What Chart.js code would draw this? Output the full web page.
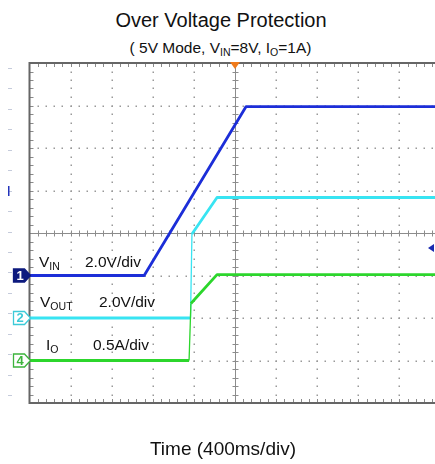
<!DOCTYPE html>
<html>
<head>
<meta charset="utf-8">
<script src="https://cdn.jsdelivr.net/npm/chart.js@4.4.1/dist/chart.umd.min.js"></script>
<style>
  html, body { margin: 0; padding: 0; background: #fff; }
  body { width: 435px; height: 464px; overflow: hidden; position: relative; font-family: "Liberation Sans", Arial, sans-serif; color: #111; }
  #scope { position: absolute; left: 0; top: 0; }
  .txt { position: absolute; white-space: nowrap; text-align: center; }
  .txt sub { font-size: 0.68em; vertical-align: -0.25em; line-height: 0; }
  #title { left: 0; width: 442px; top: 10px; font-size: 20px; line-height: 20px; }
  #subtitle { left: 0; width: 441px; top: 40px; font-size: 15.5px; line-height: 15px; }
  #xlabel { left: 0; width: 446px; top: 439px; font-size: 19px; line-height: 19px; }
</style>
</head>
<body>
<div id="title" class="txt">Over Voltage Protection</div>
<div id="subtitle" class="txt">( 5V Mode, V<sub>IN</sub>=8V, I<sub>O</sub>=1A)</div>
<canvas id="scope" width="450" height="464"></canvas>
<div id="xlabel" class="txt">Time (400ms/div)</div>
<script>
// time in ms from left edge of screen (400ms/div, 10 div)
var timeVin  = [0, 1116, 2108, 4000];
var vin      = [0, 0, 7.95, 7.95];          // V
var timeVout = [0, 1567, 1581, 1825, 4000];
var vout     = [0, 0, 3.95, 5.67, 5.67];   // V
var timeIo   = [0, 1553, 1571, 1825, 4000];
var io       = [0, 0, 0.67, 1.01, 1.01];   // A

// channel settings: zero position (div from bottom) and units per div
var ch1 = { pos: 3, perDiv: 2.0 };
var ch2 = { pos: 2, perDiv: 2.0 };
var ch4 = { pos: 1, perDiv: 0.5 };
var trigLevel = 3.65;   // div

var divX = 400, nDivX = 10, nDivY = 8;

function toPoints(t, v, ch) {
    var pts = [];
    for (var i = 0; i < t.length; i++) {
        pts.push({ x: t[i], y: ch.pos + v[i] / ch.perDiv });
    }
    return pts;
}

function drawSubText(ctx, parts, x, y, size, color) {
    ctx.fillStyle = color;
    ctx.textBaseline = 'alphabetic';
    ctx.textAlign = 'left';
    parts.forEach(function (p) {
        var sub = p[1];
        ctx.font = (sub ? size * 0.68 : size) + 'px "Liberation Sans", Arial, sans-serif';
        ctx.fillText(p[0], x, sub ? y + size * 0.2 : y);
        x += ctx.measureText(p[0]).width;
    });
}

function marker(ctx, x, y, label, fill, stroke, txt) {
    ctx.beginPath();
    ctx.moveTo(x - 17, y - 6.5);
    ctx.lineTo(x - 6, y - 6.5);
    ctx.lineTo(x, y);
    ctx.lineTo(x - 6, y + 6.5);
    ctx.lineTo(x - 17, y + 6.5);
    ctx.closePath();
    ctx.fillStyle = fill;
    ctx.fill();
    ctx.lineWidth = 1.3;
    ctx.strokeStyle = stroke;
    ctx.stroke();
    ctx.fillStyle = txt;
    ctx.font = 'bold 13px "Liberation Sans", Arial, sans-serif';
    ctx.textAlign = 'center';
    ctx.textBaseline = 'middle';
    ctx.fillText(label, x - 10.5, y + 0.5);
}

const scopeGrid = {
    id: 'scopeGrid',
    beforeDatasetsDraw(chart) {
        const { ctx, chartArea: a, scales: { x, y } } = chart;
        ctx.save();
        // dotted division lines
        ctx.fillStyle = '#999';
        for (var i = 1; i < nDivX; i++) {
            if (i == 5) continue;
            var px = Math.round(x.getPixelForValue(i * divX));
            for (var k = 1; k < nDivY * 5; k++) {
                var py = Math.round(y.getPixelForValue(k / 5));
                ctx.fillRect(px - 0.5, py - 0.5, 1.5, 1.5);
            }
        }
        for (var j = 1; j < nDivY; j++) {
            if (j == 4) continue;
            var py = Math.round(y.getPixelForValue(j));
            for (var k = 1; k < nDivX * 5; k++) {
                var px = Math.round(x.getPixelForValue(k * divX / 5));
                ctx.fillRect(px - 0.5, py - 0.5, 1.5, 1.5);
            }
        }
        // center cross with minor ticks
        var cx = Math.round(x.getPixelForValue(5 * divX)) + 0.5;
        var cy = Math.round(y.getPixelForValue(4)) + 0.5;
        ctx.strokeStyle = '#8c8c8c';
        ctx.lineWidth = 1;
        ctx.beginPath();
        ctx.moveTo(a.left, cy); ctx.lineTo(a.right, cy);
        ctx.moveTo(cx, a.top); ctx.lineTo(cx, a.bottom);
        for (var k = 1; k < nDivX * 5; k++) {
            var px = Math.round(x.getPixelForValue(k * divX / 5)) + 0.5;
            ctx.moveTo(px, cy - 3); ctx.lineTo(px, cy + 3);
        }
        for (var k = 1; k < nDivY * 5; k++) {
            var py = Math.round(y.getPixelForValue(k / 5)) + 0.5;
            ctx.moveTo(cx - 3, py); ctx.lineTo(cx + 3, py);
        }
        ctx.stroke();
        // frame ticks
        ctx.strokeStyle = '#8a8a8a';
        ctx.beginPath();
        for (var k = 1; k < nDivX * 5; k++) {
            var px = Math.round(x.getPixelForValue(k * divX / 5)) + 0.5;
            ctx.moveTo(px, a.top); ctx.lineTo(px, a.top + 4);
            ctx.moveTo(px, a.bottom); ctx.lineTo(px, a.bottom - 4);
        }
        for (var k = 1; k < nDivY * 5; k++) {
            var py = Math.round(y.getPixelForValue(k / 5)) + 0.5;
            ctx.moveTo(a.left, py); ctx.lineTo(a.left + 4, py);
            ctx.moveTo(a.right, py); ctx.lineTo(a.right - 4, py);
        }
        ctx.stroke();
        // frame
        ctx.strokeStyle = '#666';
        ctx.lineWidth = 2;
        ctx.strokeRect(a.left, a.top, a.right - a.left, a.bottom - a.top);
        // dashes outside left edge
        ctx.fillStyle = '#c5cbdb';
        for (var py = 68; py < 400; py += 20.45) {
            ctx.fillRect(8, Math.round(py), 4, 1);
        }
        ctx.fillStyle = '#2233bb';
        ctx.fillRect(8, 186, 1.5, 10);
        ctx.restore();
    },
    afterDatasetsDraw(chart) {
        const { ctx, chartArea: a, scales: { x, y } } = chart;
        ctx.save();
        // trigger position marker
        var tx = x.getPixelForValue(5 * divX);
        ctx.fillStyle = '#f07a1a';
        ctx.beginPath();
        ctx.moveTo(tx - 5, a.top - 1); ctx.lineTo(tx + 5, a.top - 1); ctx.lineTo(tx, a.top + 6);
        ctx.closePath(); ctx.fill();
        // trigger level arrow on right
        var ty = y.getPixelForValue(trigLevel);
        ctx.fillStyle = '#1a2ab0';
        ctx.beginPath();
        ctx.moveTo(428, ty); ctx.lineTo(434, ty - 4); ctx.lineTo(434, ty + 4);
        ctx.closePath(); ctx.fill();
        // channel markers
        var lx = a.left + 1;
        marker(ctx, lx, y.getPixelForValue(ch1.pos), '1', '#0d1a7e', '#0d1a7e', '#fff');
        marker(ctx, lx, y.getPixelForValue(ch2.pos), '2', '#fff', '#3ccad8', '#3ccad8');
        marker(ctx, lx, y.getPixelForValue(ch4.pos), '4', '#fff', '#3cb43c', '#3cb43c');
        // channel labels
        var fs = 15.5;
        drawSubText(ctx, [['V', 0], ['IN', 1]], 39, y.getPixelForValue(ch1.pos) - 9, fs, '#111');
        drawSubText(ctx, [['2.0V/div', 0]], 85, y.getPixelForValue(ch1.pos) - 9, fs, '#111');
        drawSubText(ctx, [['V', 0], ['OUT', 1]], 40, y.getPixelForValue(ch2.pos) - 11, fs, '#111');
        drawSubText(ctx, [['2.0V/div', 0]], 99, y.getPixelForValue(ch2.pos) - 11, fs, '#111');
        drawSubText(ctx, [['I', 0], ['O', 1]], 46, y.getPixelForValue(ch4.pos) - 11, fs, '#111');
        drawSubText(ctx, [['0.5A/div', 0]], 93, y.getPixelForValue(ch4.pos) - 11, fs, '#111');
        ctx.restore();
    }
};

function thinOnJump(ctx) {
    return (ctx.p1.parsed.x - ctx.p0.parsed.x) < 30 ? 1.3 : 2.8;
}

new Chart(document.getElementById('scope').getContext('2d'), {
    type: 'line',
    data: {
        datasets: [
            { label: 'IO', data: toPoints(timeIo, io, ch4), borderColor: '#2cd62c', borderWidth: 2.8, segment: { borderWidth: thinOnJump } },
            { label: 'VOUT', data: toPoints(timeVout, vout, ch2), borderColor: '#38e4f2', borderWidth: 2.8, segment: { borderWidth: thinOnJump } },
            { label: 'VIN', data: toPoints(timeVin, vin, ch1), borderColor: '#1c2ed8', borderWidth: 2.8 }
        ]
    },
    options: {
        responsive: false,
        animation: false,
        devicePixelRatio: 1,
        layout: { padding: { left: 29.5, top: 63, right: 9.5, bottom: 61 } },
        elements: { point: { radius: 0 }, line: { tension: 0, borderJoinStyle: 'round' } },
        plugins: { legend: { display: false }, tooltip: { enabled: false } },
        scales: {
            x: { type: 'linear', min: 0, max: nDivX * divX, display: false },
            y: { type: 'linear', min: 0, max: nDivY, display: false }
        }
    },
    plugins: [scopeGrid]
});
</script>
</body>
</html>
